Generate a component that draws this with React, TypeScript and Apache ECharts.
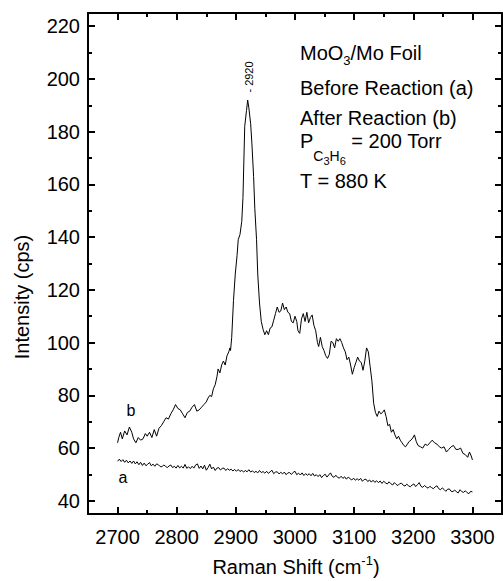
import React, { useEffect, useRef } from 'react';
import * as echarts from 'echarts';

// Curve b: after reaction  [Raman shift (cm-1), intensity (cps)]
const curveB: [number, number][] = [
  [2700, 62], [2702, 64], [2705, 66], [2708, 63.5], [2712, 66.5], [2716, 65], [2720, 68], [2724, 66],
  [2727, 63.5], [2731, 62], [2735, 64], [2739, 63], [2743, 63.5], [2747, 65.5], [2750, 64.5], [2754, 66],
  [2758, 64], [2762, 67], [2766, 64.5], [2770, 67.5], [2774, 68.5], [2778, 70], [2782, 71.5], [2786, 71],
  [2790, 73], [2794, 74.5], [2798, 76.5], [2802, 75], [2806, 74.5], [2810, 73], [2814, 71.5], [2818, 73.5],
  [2822, 74], [2826, 75.5], [2830, 76.5], [2834, 74], [2838, 74.5], [2842, 75.5], [2846, 76.5], [2850, 77.5],
  [2853, 79], [2856, 80], [2859, 79.5], [2862, 82.5], [2865, 84], [2868, 87], [2870, 90], [2873, 88.5],
  [2876, 91.5], [2879, 93], [2882, 91.5], [2885, 95], [2888, 96.5], [2890, 98], [2891, 97], [2893, 102],
  [2896, 116], [2899, 126], [2902, 133], [2904, 139], [2907, 141], [2910, 146], [2912, 155], [2915, 182],
  [2918, 188], [2920, 192], [2922, 189], [2925, 183], [2927, 176], [2930, 163], [2932, 151], [2935, 139],
  [2937, 126], [2940, 115], [2943, 108], [2946, 105], [2949, 103], [2952, 104.5], [2955, 103], [2958, 105.5],
  [2961, 106], [2964, 108.5], [2967, 111], [2970, 113.5], [2973, 111.5], [2976, 112], [2979, 115], [2982, 112.5],
  [2985, 113.5], [2988, 111.5], [2991, 111], [2994, 108], [2997, 107.5], [3000, 110], [3003, 108], [3005, 104.5],
  [3008, 103.5], [3011, 109], [3014, 111], [3017, 108], [3020, 111.5], [3023, 107.5], [3026, 109.5], [3029, 110.5],
  [3032, 106.5], [3035, 104.5], [3038, 100], [3040, 98.5], [3043, 102], [3046, 98.5], [3049, 97], [3052, 95],
  [3055, 94], [3058, 95.5], [3061, 100.5], [3064, 100], [3067, 98], [3070, 101.5], [3073, 100.5], [3076, 101.5],
  [3079, 100], [3082, 98], [3085, 96.5], [3088, 93.5], [3091, 94.5], [3094, 91.5], [3097, 88], [3100, 90.5],
  [3103, 92.5], [3106, 94.5], [3109, 93], [3112, 92.5], [3115, 89.5], [3118, 93], [3121, 98], [3124, 96.5],
  [3127, 91], [3130, 85.5], [3133, 77], [3136, 73.5], [3139, 72], [3142, 74], [3145, 73], [3148, 73.5],
  [3151, 74.5], [3154, 72], [3157, 68.5], [3160, 69], [3163, 66], [3166, 67], [3169, 65], [3172, 63.5],
  [3175, 64.5], [3178, 63], [3181, 62], [3184, 61], [3187, 60.5], [3190, 61.5], [3193, 62.5], [3196, 63],
  [3199, 63.8], [3202, 65], [3205, 62.5], [3208, 61], [3212, 60.5], [3216, 60], [3220, 61.5], [3224, 61],
  [3228, 62], [3232, 63], [3236, 62], [3240, 61.5], [3244, 60.5], [3248, 60], [3252, 60.5], [3256, 58.5],
  [3260, 59.5], [3264, 60.5], [3268, 61], [3272, 59.5], [3276, 59.5], [3280, 60], [3284, 58], [3288, 57.5],
  [3292, 56.5], [3295, 58.5], [3298, 57], [3300, 55.5],
];

// Curve a: before reaction
const curveA: [number, number][] = [
  [2700, 55.0], [2703, 55.8], [2706, 54.9], [2709, 55.6], [2712, 54.6], [2715, 55.4], [2718, 54.4], [2721, 55.1],
  [2724, 54.2], [2727, 55.1], [2730, 54.0], [2733, 54.8], [2736, 53.7], [2739, 54.6], [2742, 53.4], [2745, 54.3],
  [2748, 53.3], [2751, 53.9], [2754, 54.5], [2757, 53.3], [2760, 53.9], [2763, 53.1], [2766, 54.0], [2769, 53.7],
  [2772, 53.0], [2775, 52.9], [2778, 53.6], [2781, 53.1], [2784, 52.6], [2787, 53.2], [2790, 53.6], [2793, 52.6],
  [2796, 53.1], [2799, 52.4], [2802, 53.4], [2805, 52.5], [2808, 53.1], [2811, 52.4], [2814, 53.8], [2817, 52.3],
  [2820, 52.9], [2823, 52.2], [2826, 53.1], [2829, 52.4], [2832, 53.6], [2835, 54.0], [2838, 52.3], [2841, 53.2],
  [2844, 52.1], [2847, 53.5], [2850, 51.6], [2853, 52.6], [2856, 53.9], [2859, 52.1], [2862, 52.8], [2865, 51.5],
  [2868, 52.4], [2871, 52.6], [2874, 51.7], [2877, 52.3], [2880, 52.4], [2883, 51.5], [2886, 52.2], [2889, 51.6],
  [2892, 52.0], [2895, 51.3], [2898, 51.9], [2901, 51.2], [2904, 51.9], [2907, 51.1], [2910, 51.6], [2913, 50.9],
  [2916, 51.5], [2919, 51.0], [2922, 51.8], [2925, 50.9], [2928, 51.4], [2931, 50.7], [2934, 51.2], [2937, 50.6],
  [2940, 51.5], [2943, 50.7], [2946, 51.1], [2949, 50.5], [2952, 51.2], [2955, 50.4], [2958, 51.0], [2961, 51.6],
  [2964, 50.3], [2967, 50.9], [2970, 51.0], [2973, 50.2], [2976, 50.8], [2979, 50.2], [2982, 50.9], [2985, 49.9],
  [2988, 50.6], [2991, 50.7], [2994, 50.0], [2997, 50.8], [3000, 51.2], [3003, 49.9], [3006, 50.5], [3009, 49.8],
  [3012, 50.6], [3015, 49.6], [3018, 50.3], [3021, 49.7], [3024, 50.3], [3027, 49.5], [3030, 50.4], [3033, 49.4],
  [3036, 49.9], [3039, 49.2], [3042, 49.9], [3045, 48.8], [3048, 49.6], [3051, 50.1], [3054, 49.0], [3057, 49.8],
  [3060, 50.6], [3063, 49.3], [3066, 48.9], [3069, 49.7], [3072, 48.9], [3075, 48.6], [3078, 49.3], [3081, 48.5],
  [3084, 49.1], [3087, 48.2], [3090, 49.0], [3093, 48.4], [3096, 47.9], [3099, 48.6], [3102, 47.8], [3105, 48.4],
  [3108, 47.8], [3111, 48.5], [3114, 47.4], [3117, 48.1], [3120, 48.2], [3123, 47.3], [3126, 47.9], [3129, 47.1],
  [3132, 47.8], [3135, 47.0], [3138, 47.6], [3141, 46.9], [3144, 47.5], [3147, 46.6], [3150, 47.4], [3153, 46.8],
  [3156, 46.4], [3159, 47.2], [3162, 46.5], [3165, 46.0], [3168, 46.9], [3171, 46.2], [3174, 45.8], [3177, 46.5],
  [3180, 46.7], [3183, 45.9], [3186, 45.6], [3189, 46.3], [3192, 45.7], [3195, 45.3], [3198, 46.0], [3201, 46.4],
  [3204, 45.4], [3207, 46.1], [3210, 46.9], [3213, 45.5], [3216, 45.1], [3219, 45.8], [3222, 45.2], [3225, 44.8],
  [3228, 45.5], [3231, 45.0], [3234, 44.6], [3237, 45.3], [3240, 45.7], [3243, 44.6], [3246, 44.2], [3249, 44.9],
  [3252, 44.3], [3255, 43.6], [3258, 44.4], [3261, 44.5], [3264, 43.6], [3267, 43.5], [3270, 44.1], [3273, 43.4],
  [3276, 43.0], [3279, 44.2], [3282, 43.5], [3285, 43.2], [3288, 43.8], [3291, 43.1], [3294, 42.7], [3297, 43.6],
  [3300, 43.4],
];

const xMajorTicks = [2700, 2800, 2900, 3000, 3100, 3200, 3300];
const xMinorTicks = [2750, 2850, 2950, 3050, 3150, 3250];
const yMajorTicks = [40, 60, 80, 100, 120, 140, 160, 180, 200, 220];
const yMinorTicks = [50, 70, 90, 110, 130, 150, 170, 190, 210];

const FONT = '"Liberation Sans", Arial, Helvetica, sans-serif';

function makeAxis(kind: 'x' | 'y', position: string, ticks: number[], len: number, showLine: boolean, showLabel: boolean) {
  const range = kind === 'x' ? { min: 2650, max: 3350 } : { min: 35, max: 225 };
  return {
    type: 'value',
    ...range,
    position,
    axisLine: { show: showLine, onZero: false, lineStyle: { color: '#000', width: 2 } },
    axisTick: { show: true, inside: true, length: len, customValues: ticks, lineStyle: { color: '#000', width: 2 } },
    axisLabel: showLabel
      ? {
          show: true, customValues: ticks, margin: kind === 'x' ? 13 : 8, color: '#000', fontSize: 20, fontFamily: FONT,
          formatter: (v: number) => String(v),
        }
      : { show: false },
    splitLine: { show: false },
    minorTick: { show: false },
  };
}

export default function App() {
  const ref = useRef<HTMLDivElement>(null);
  useEffect(() => {
    if (!ref.current) return;
    const chart = echarts.init(ref.current, undefined, { renderer: 'svg' });
    const main = { fontSize: 20, fontFamily: FONT, lineHeight: 60, verticalAlign: 'top', color: '#000' };
    const sub = (size: number, drop: number) => ({
      fontSize: size, fontFamily: FONT, lineHeight: 60, verticalAlign: 'top', color: '#000',
      padding: [drop, 0, 0, 0],
    });
    chart.setOption({
      animation: false,
      backgroundColor: '#fff',
      grid: { left: 88, right: 1, top: 13, bottom: 67, outerBoundsMode: 'none' },
      xAxis: [
        makeAxis('x', 'bottom', xMajorTicks, 7, true, true),
        makeAxis('x', 'bottom', xMinorTicks, 4, false, false),
        makeAxis('x', 'top', xMajorTicks, 7, true, false),
        makeAxis('x', 'top', xMinorTicks, 4, false, false),
      ],
      yAxis: [
        makeAxis('y', 'left', yMajorTicks, 7, true, true),
        makeAxis('y', 'left', yMinorTicks, 4, false, false),
        makeAxis('y', 'right', yMajorTicks, 7, true, false),
        makeAxis('y', 'right', yMinorTicks, 4, false, false),
      ],
      series: [
        {
          name: 'b', type: 'line', xAxisIndex: 0, yAxisIndex: 0, data: curveB, showSymbol: false,
          lineStyle: { color: '#000', width: 1 }, silent: true,
        },
        {
          name: 'a', type: 'line', xAxisIndex: 0, yAxisIndex: 0, data: curveA, showSymbol: false,
          lineStyle: { color: '#000', width: 1 }, silent: true,
        },
      ],
      graphic: [
        {
          type: 'text', x: 22, y: 297, rotation: Math.PI / 2,
          style: { text: 'Intensity (cps)', fontSize: 20, fontFamily: FONT, fill: '#000', align: 'center', verticalAlign: 'middle' },
        },
        {
          type: 'text', x: 296, y: 550,
          style: {
            text: '{m|Raman Shift (cm}{s|-1}{m|)}', align: 'center', verticalAlign: 'top',
            rich: { m: sub(20, 7), s: sub(13, 3.5) },
          },
        },
        {
          type: 'text', x: 300, y: 42.5,
          style: {
            text: '{m|MoO}{s|3}{m|/Mo Foil}', align: 'left', verticalAlign: 'top',
            rich: { m: main, s: sub(13, 11.5) },
          },
        },
        {
          type: 'text', x: 300, y: 77.5,
          style: { text: '{m|Before Reaction (a)}', align: 'left', verticalAlign: 'top', rich: { m: main } },
        },
        {
          type: 'text', x: 300, y: 107.5,
          style: { text: '{m|After Reaction (b)}', align: 'left', verticalAlign: 'top', rich: { m: main } },
        },
        {
          type: 'text', x: 300, y: 131,
          style: {
            text: '{m|P}{s|C}{t|3}{s|H}{t|6}{m| = 200 Torr}', align: 'left', verticalAlign: 'top',
            rich: { m: main, s: sub(14, 17.5), t: sub(11, 24) },
          },
        },
        {
          type: 'text', x: 300, y: 170.5,
          style: { text: '{m|T = 880 K}', align: 'left', verticalAlign: 'top', rich: { m: main } },
        },
        {
          type: 'text', x: 249, y: 77, rotation: Math.PI / 2,
          style: { text: '- 2920', fontSize: 11, fontFamily: FONT, fill: '#000', align: 'center', verticalAlign: 'middle' },
        },
        {
          type: 'text', x: 131, y: 410,
          style: { text: 'b', fontSize: 16, fontFamily: FONT, fill: '#000', align: 'center', verticalAlign: 'middle' },
        },
        {
          type: 'text', x: 123, y: 477,
          style: { text: 'a', fontSize: 16, fontFamily: FONT, fill: '#000', align: 'center', verticalAlign: 'middle' },
        },
      ],
    });
    return () => chart.dispose();
  }, []);
  return <div ref={ref} style={{ position: 'fixed', left: 0, top: 0, width: 503, height: 581, background: '#fff' }} />;
}
